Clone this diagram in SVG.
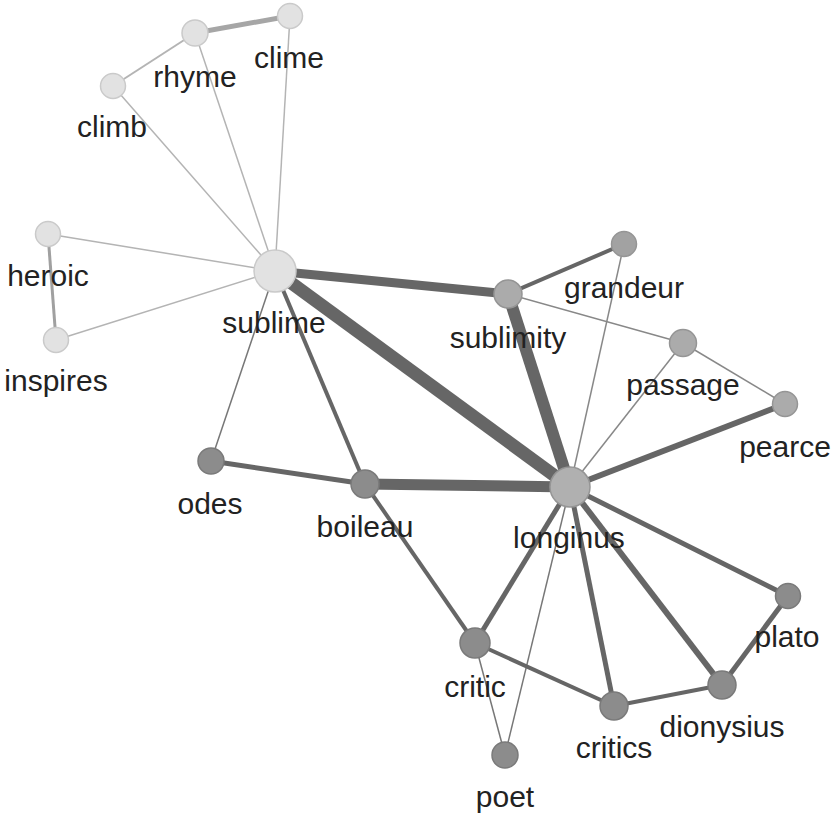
<svg xmlns="http://www.w3.org/2000/svg" width="835" height="817" viewBox="0 0 835 817">
<style>
.e{stroke:#666;fill:none;stroke-linecap:butt}
.l{stroke:#b4b4b4;fill:none}
.n1{fill:#e2e2e2;stroke:#cacaca;stroke-width:1.5}
.n2{fill:#ababab;stroke:#959595;stroke-width:1.5}
.n3{fill:#8c8c8c;stroke:#7a7a7a;stroke-width:1.5}
text{font-family:"Liberation Sans",Arial,sans-serif;font-size:30px;fill:#222;text-anchor:middle}
</style>
<rect width="835" height="817" fill="#fff"/>
<g id="connectors">
<line class="l" x1="195" y1="33" x2="290" y2="16" style="stroke:#a6a6a6;stroke-width:5"/>
<line class="l" x1="195" y1="33" x2="113" y2="86" style="stroke-width:2"/>
<line class="l" x1="113" y1="86" x2="275" y2="271" style="stroke-width:1.5"/>
<line class="l" x1="195" y1="33" x2="275" y2="271" style="stroke-width:1.5"/>
<line class="l" x1="290" y1="16" x2="275" y2="271" style="stroke-width:1.5"/>
<line class="l" x1="48" y1="234" x2="275" y2="271" style="stroke-width:1.5"/>
<line class="l" x1="56" y1="340" x2="275" y2="271" style="stroke-width:1.5"/>
<line class="l" x1="48" y1="234" x2="56" y2="340" style="stroke:#a0a0a0;stroke-width:3"/>
<line class="e" x1="275" y1="271" x2="508" y2="294" style="stroke-width:9"/>
<line class="e" x1="275" y1="271" x2="570" y2="487" style="stroke-width:13"/>
<line class="e" x1="275" y1="271" x2="365" y2="484" style="stroke-width:4"/>
<line class="e" x1="275" y1="271" x2="211" y2="461" style="stroke:#777;stroke-width:1.5"/>
<line class="e" x1="508" y1="294" x2="570" y2="487" style="stroke-width:12"/>
<line class="e" x1="508" y1="294" x2="624" y2="244" style="stroke-width:4"/>
<line class="e" x1="508" y1="294" x2="683" y2="343" style="stroke:#888;stroke-width:1.5"/>
<line class="e" x1="624" y1="244" x2="570" y2="487" style="stroke:#888;stroke-width:1.5"/>
<line class="e" x1="683" y1="343" x2="570" y2="487" style="stroke:#888;stroke-width:1.5"/>
<line class="e" x1="683" y1="343" x2="785" y2="404" style="stroke:#888;stroke-width:1.5"/>
<line class="e" x1="785" y1="404" x2="570" y2="487" style="stroke-width:6"/>
<line class="e" x1="365" y1="484" x2="570" y2="487" style="stroke-width:11"/>
<line class="e" x1="211" y1="461" x2="365" y2="484" style="stroke-width:5"/>
<line class="e" x1="365" y1="484" x2="475" y2="643" style="stroke-width:4"/>
<line class="e" x1="570" y1="487" x2="475" y2="643" style="stroke-width:5"/>
<line class="e" x1="570" y1="487" x2="505" y2="755" style="stroke:#777;stroke-width:1.5"/>
<line class="e" x1="570" y1="487" x2="614" y2="706" style="stroke-width:5"/>
<line class="e" x1="570" y1="487" x2="722" y2="685" style="stroke-width:6"/>
<line class="e" x1="570" y1="487" x2="788" y2="596" style="stroke-width:5"/>
<line class="e" x1="475" y1="643" x2="614" y2="706" style="stroke-width:4"/>
<line class="e" x1="475" y1="643" x2="505" y2="755" style="stroke:#777;stroke-width:1.5"/>
<line class="e" x1="614" y1="706" x2="722" y2="685" style="stroke-width:4"/>
<line class="e" x1="722" y1="685" x2="788" y2="596" style="stroke-width:5"/>
</g>
<g id="clime"><circle class="n1" cx="290" cy="16" r="12.5"/><text x="289" y="68">clime</text></g>
<g id="rhyme"><circle class="n1" cx="195" cy="33" r="13"/><text x="195" y="87">rhyme</text></g>
<g id="climb"><circle class="n1" cx="113" cy="86" r="12.5"/><text x="112" y="137">climb</text></g>
<g id="heroic"><circle class="n1" cx="48" cy="234" r="12.5"/><text x="48" y="286">heroic</text></g>
<g id="inspires"><circle class="n1" cx="56" cy="340" r="12.5"/><text x="56" y="391">inspires</text></g>
<g id="sublime"><circle class="n1" cx="275" cy="271" r="21"/><text x="274" y="333">sublime</text></g>
<g id="sublimity"><circle class="n2" cx="508" cy="294" r="14"/><text x="508" y="348">sublimity</text></g>
<g id="grandeur"><circle class="n2" cx="624" cy="244" r="12.5" style="fill:#a2a2a2"/><text x="624" y="298">grandeur</text></g>
<g id="passage"><circle class="n2" cx="683" cy="343" r="13.5"/><text x="683" y="395">passage</text></g>
<g id="pearce"><circle class="n2" cx="785" cy="404" r="12.5"/><text x="785" y="457">pearce</text></g>
<g id="longinus"><circle class="n2" cx="570" cy="487" r="20" style="fill:#b0b0b0"/><text x="569" y="548">longinus</text></g>
<g id="odes"><circle class="n3" cx="211" cy="461" r="13"/><text x="210" y="514">odes</text></g>
<g id="boileau"><circle class="n3" cx="365" cy="484" r="14"/><text x="365" y="537">boileau</text></g>
<g id="critic"><circle class="n3" cx="475" cy="643" r="15"/><text x="475" y="697">critic</text></g>
<g id="critics"><circle class="n3" cx="614" cy="706" r="14"/><text x="614" y="758">critics</text></g>
<g id="dionysius"><circle class="n3" cx="722" cy="685" r="14"/><text x="722" y="737">dionysius</text></g>
<g id="plato"><circle class="n3" cx="788" cy="596" r="12.5"/><text x="787" y="647">plato</text></g>
<g id="poet"><circle class="n3" cx="505" cy="755" r="13"/><text x="505" y="807">poet</text></g>
</svg>
